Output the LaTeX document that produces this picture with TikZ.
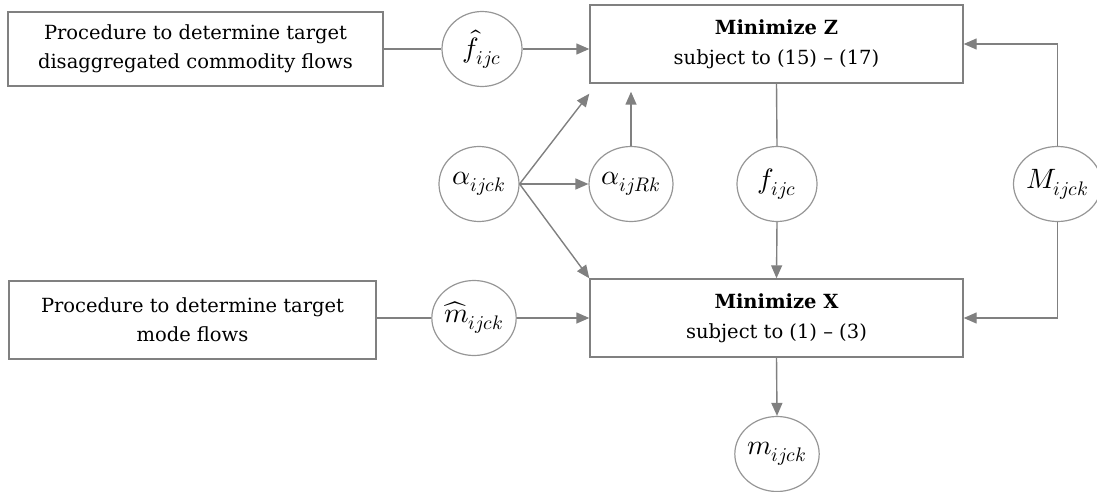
\documentclass[tikz,border=0pt]{standalone}
\usepackage{unicode-math}
\setmainfont{DejaVu Serif}
\setmathfont{Latin Modern Math}
\usetikzlibrary{arrows.meta,shapes.geometric,calc}
\definecolor{lin}{RGB}{128,128,128}
\definecolor{cir}{RGB}{150,150,150}
\tikzset{
  procbox/.style={draw=lin,line width=1.4pt,rectangle,align=center,inner sep=0pt,
    font=\fontsize{19.5}{29}\selectfont},
  optbox/.style={draw=lin,line width=1.4pt,rectangle,align=center,inner sep=0pt,
    minimum width=373pt,minimum height=78pt,font=\fontsize{19.5}{30}\selectfont},
  var/.style={draw=cir,line width=1.2pt,ellipse,minimum width=80pt,minimum height=75pt,
    inner sep=0pt,font=\fontsize{28}{30}\selectfont},
  conn/.style={draw=lin,line width=1.4pt},
  arr/.style={conn,-{Triangle[length=13pt,width=11pt]}}
}
\begin{document}
\begin{tikzpicture}[x=1pt,y=-1pt]
\useasboundingbox (0,0) rectangle (1097,492);
\node[procbox,minimum width=375pt,minimum height=74pt] (p1) at (195.5,49)
  {Procedure to determine target\\disaggregated commodity flows};
\node[procbox,minimum width=367pt,minimum height=78pt] (p2) at (192.5,320)
  {Procedure to determine target\\mode flows};
\node[optbox] (Z) at (776.5,44) {\textbf{Minimize Z}\\subject to (15) – (17)};
\node[optbox] (X) at (776.5,318) {\textbf{Minimize X}\\subject to (1) – (3)};
\node[var] (fh) at (482,49) {$\hat{f}_{ijc}$};
\node[var] (a1) at (479,184) {$\alpha_{ijck}$};
\node[var] (a2) at (631,184) {$\alpha_{ijRk}$};
\node[var] (f) at (777,184) {$f_{ijc}$};
\node[var] (M) at (1057.5,184) {$M_{ijck}$};
\node[var] (mh) at (474,318) {$\widehat{m}_{ijck}$};
\node[var] (m) at (777,454) {$m_{ijck}$};
\coordinate (zc) at ($(Z.south west)+(0,10)$);
\coordinate (za) at ($(a2.north |- Z.south)+(0,8)$);
\draw[conn] (p1.east |- fh.west) -- (fh.west);
\draw[arr] (fh.east) -- (fh.east -| Z.west);
\draw[arr] (a1.east) -- (zc);
\draw[arr] (a1.east) -- (a2.west);
\draw[arr] (a1.east) -- (X.north west);
\draw[arr] (a2.north) -- (za);
\draw[conn] (Z.south) -- (f.north);
\draw[arr] (f.south) -- (X.north);
\draw[arr] (M.north) |- (Z.east);
\draw[arr] (M.south) |- (X.east);
\draw[conn] (p2.east |- mh.west) -- (mh.west);
\draw[arr] (mh.east) -- (mh.east -| X.west);
\draw[arr] (X.south) -- (m.north);
\end{tikzpicture}
\end{document}
